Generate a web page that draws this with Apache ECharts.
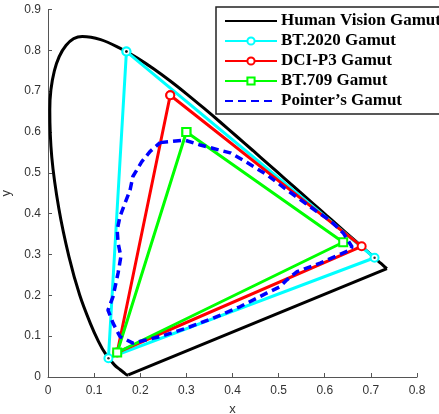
<!DOCTYPE html>
<html>
<head>
<meta charset="utf-8">
<script src="https://cdn.jsdelivr.net/npm/echarts@6/dist/echarts.min.js"></script>
<style>html,body{margin:0;padding:0;background:#fff}#c{width:439px;height:414px}</style>
</head>
<body>
<div id="c"></div>
<script>
// CIE 1931 spectral locus (horseshoe part)
const humanVision = [
  [0.1741,0.0050],[0.1733,0.0048],[0.1714,0.0051],[0.1644,0.0109],[0.1566,0.0177],
  [0.1440,0.0297],[0.1241,0.0578],[0.1096,0.0868],[0.0913,0.1327],[0.0687,0.2007],
  [0.0454,0.2950],[0.0235,0.4127],[0.0082,0.5384],[0.0039,0.6548],[0.0139,0.7502],
  [0.0389,0.8120],[0.0743,0.8338],[0.1142,0.8262],[0.1547,0.8059],[0.1929,0.7816],
  [0.2296,0.7543],[0.2658,0.7243],[0.3016,0.6923],[0.3373,0.6589],[0.3731,0.6245],
  [0.4087,0.5896],[0.4441,0.5547],[0.4788,0.5202],[0.5125,0.4866],[0.5448,0.4544],
  [0.5752,0.4242],[0.6029,0.3965],[0.6270,0.3725],[0.6658,0.3340],[0.6915,0.3083],
  [0.7079,0.2920],[0.7190,0.2809],[0.7260,0.2740],[0.7347,0.2653]
];
// line of purples closing the locus
const purpleLine = [[0.7347,0.2653],[0.1741,0.0050]];
const bt2020 = [[0.170,0.797],[0.708,0.292],[0.131,0.046],[0.170,0.797]];
const dciP3  = [[0.265,0.690],[0.680,0.320],[0.150,0.060],[0.265,0.690]];
const bt709  = [[0.300,0.600],[0.640,0.330],[0.150,0.060],[0.300,0.600]];
const pointer = [
  [0.243,0.574],[0.297,0.580],[0.330,0.568],[0.395,0.549],[0.423,0.531],[0.475,0.495],
  [0.518,0.458],[0.583,0.405],[0.611,0.384],[0.640,0.353],[0.659,0.319],[0.655,0.311],
  [0.590,0.279],[0.540,0.258],[0.518,0.238],[0.503,0.221],[0.475,0.206],[0.416,0.172],
  [0.358,0.144],[0.301,0.120],[0.243,0.099],[0.184,0.083],[0.156,0.099],[0.141,0.132],
  [0.130,0.164],[0.141,0.197],[0.152,0.255],[0.158,0.295],[0.152,0.328],[0.150,0.360],
  [0.156,0.393],[0.167,0.426],[0.178,0.458],[0.184,0.491],[0.203,0.527],[0.221,0.552],
  [0.243,0.574]
];
const xTicks = ['0','0.1','0.2','0.3','0.4','0.5','0.6','0.7','0.8'];
const yTicks = ['0','0.1','0.2','0.3','0.4','0.5','0.6','0.7','0.8','0.9'];
const names = ['Human Vision Gamut','BT.2020 Gamut','DCI-P3 Gamut','BT.709 Gamut',"Pointer\u2019s Gamut"];

const chart = echarts.init(document.getElementById('c'));
const axisCommon = {
  type:'value', splitLine:{show:false},
  axisLine:{show:true, lineStyle:{color:'#555', width:1}},
  axisTick:{show:true, inside:true, length:4, lineStyle:{color:'#555'}},
  axisLabel:{color:'#333', fontFamily:'Liberation Sans', fontSize:12},
  nameTextStyle:{color:'#333', fontFamily:'Liberation Sans', fontSize:13},
  nameLocation:'middle'
};
chart.setOption({
  animation:false,
  grid:{left:48, top:9.5, right:22, bottom:37, containLabel:false, outerBoundsMode:'none'},
  xAxis:Object.assign({}, axisCommon, {min:0, max:0.8, interval:0.1, name:'x', nameGap:26,
    axisLabel:Object.assign({}, axisCommon.axisLabel, {margin:8, formatter:(v)=>xTicks[Math.round(v*10)]})}),
  yAxis:Object.assign({}, axisCommon, {min:0, max:0.9, interval:0.1, name:'y', nameGap:30,
    axisLabel:Object.assign({}, axisCommon.axisLabel, {margin:7, formatter:(v)=>yTicks[Math.round(v*10)]})}),
  legend:{
    data:[
      {name:names[0], itemStyle:{opacity:0}},
      {name:names[1]},
      {name:names[2]},
      {name:names[3]},
      {name:names[4], itemStyle:{opacity:0}}
    ],
    orient:'vertical', left:216, top:7,
    backgroundColor:'#fff', borderColor:'#222', borderWidth:1.5, borderRadius:0,
    padding:[4,30,3,8], itemGap:0, itemWidth:52, itemHeight:9,
    textStyle:{fontFamily:'Liberation Serif', fontWeight:'bold', fontSize:17, color:'#000', lineHeight:20, padding:[0,0,0,-1]}
  },
  series:[
    {name:names[0], type:'line', data:humanVision, showSymbol:false, symbol:'none', smooth:0.35,
     lineStyle:{color:'#000', width:3}, itemStyle:{color:'#000'}, z:2},
    {name:names[0], type:'line', data:purpleLine, showSymbol:false, symbol:'none',
     lineStyle:{color:'#000', width:3}, itemStyle:{color:'#000'}, z:2},
    {name:names[1], type:'line', data:bt2020, symbol:'emptyCircle', symbolSize:8,
     lineStyle:{color:'#00ffff', width:3}, itemStyle:{color:'#00ffff', borderWidth:2.5}, z:3},
    {name:'bt2020dots', type:'scatter', data:bt2020, symbol:'circle', symbolSize:2.5,
     itemStyle:{color:'#000'}, z:4, silent:true},
    {name:names[2], type:'line', data:dciP3, symbol:'emptyCircle', symbolSize:8,
     lineStyle:{color:'#ff0000', width:3}, itemStyle:{color:'#ff0000', borderWidth:2.5}, z:5},
    {name:names[3], type:'line', data:bt709, symbol:'emptyRect', symbolSize:8,
     lineStyle:{color:'#00ff00', width:3}, itemStyle:{color:'#00ff00', borderWidth:2.5}, z:6},
    {name:names[4], type:'line', data:pointer, showSymbol:false, symbol:'none',
     lineStyle:{color:'#0000ff', width:3.5, type:[8,5]}, itemStyle:{color:'#0000ff'}, z:7}
  ]
});
</script>
</body>
</html>
